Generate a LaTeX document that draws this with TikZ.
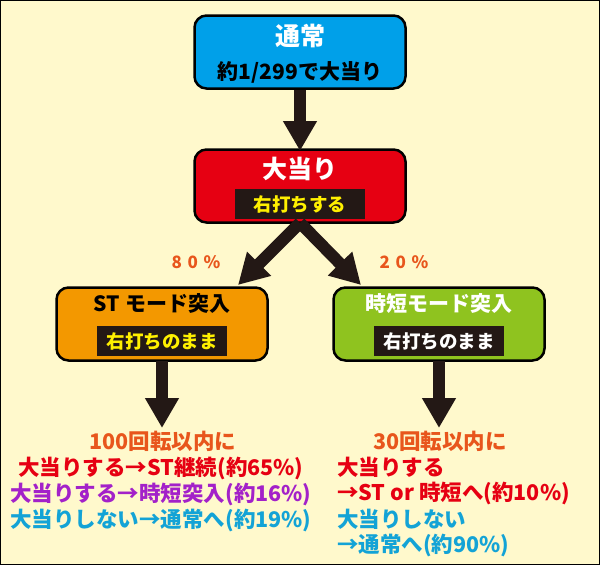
\documentclass[tikz,border=0pt]{standalone}
\usepackage{fontspec}
\setmainfont{Noto Sans CJK JP}
\usetikzlibrary{arrows.meta,positioning}
\definecolor{bg}{HTML}{FFF9CC}
\definecolor{cblue}{HTML}{00A0E9}
\definecolor{cred}{HTML}{E60012}
\definecolor{corange}{HTML}{F39800}
\definecolor{cgreen}{HTML}{8FC31F}
\definecolor{ctxt}{HTML}{E8561C}
\definecolor{cpurple}{HTML}{A321C9}
\definecolor{ccyan}{HTML}{13A3D6}
\definecolor{cyel}{HTML}{FFF000}
\definecolor{cdark}{HTML}{231815}
\tikzset{ box/.style = { draw = black
                       , line width   = 2.5pt
                       , rounded corners = 12pt
                       , minimum width  = 211pt
                       , minimum height = 73pt
                       },
          tag/.style = { fill = cdark
                       , inner sep    = 2pt
                       , minimum width  = 130pt
                       , minimum height = 30pt
                       , font = \bfseries\fontsize{18.5}{18.5}\selectfont
                       },
          ttl/.style = { font = \bfseries\fontsize{25}{25}\selectfont },
          sub/.style = { font = \bfseries\fontsize{21}{21}\selectfont },
          big/.style = { draw = cdark
                       , line width = 12pt
                       , -{Triangle[width=32pt,length=30pt]}
                       },
          txt/.style = { font = \bfseries\fontsize{21.5}{21.5}\selectfont
                       , inner sep = 0pt
                       },
          pct/.style = { font = \bfseries\fontsize{17}{17}\selectfont
                       , text = ctxt
                       }
        }
\begin{document}
\begin{tikzpicture}[x=1pt,y=-1pt]
  \path[fill=bg, draw=black, line width=1pt] (0.5,0.5) rectangle (599.5,564.5);
  \useasboundingbox (0,0) rectangle (600,565);
  % boxes
  \node[box, fill=cblue]   (normal) at (300,52)  {};
  \node[box, fill=cred]    (hit)    at (300,186) {};
  \node[box, fill=corange] (st)     at (162,324) {};
  \node[box, fill=cgreen]  (jitan)  at (439,324) {};
  % texts in boxes
  \node[ttl, text=white] (normalT) at (300,36) {通常};
  \node[sub, text=black] (normalS) at (300,72) {約1/299で大当り};
  \node[ttl, text=white] (hitT) at (300,169) {大当り};
  \node[tag, text=cyel] (hitS) at (300,204) {右打ちする};
  \node[sub, text=black] (stT) at (162,304) {ST モード突入};
  \node[tag, text=cyel] (stS) at (162,341) {右打ちのまま};
  \node[sub, text=white] (jitanT) at (439,304) {時短モード突入};
  \node[tag, text=white] (jitanS) at (439,341) {右打ちのまま};
  % arrows
  \coordinate (a1) at (300,151);
  \coordinate (a2) at (238,285);
  \coordinate (a3) at (361,285);
  \coordinate (a4) at (162,428);
  \coordinate (a5) at (439,428);
  \draw[big] (normal.south) -- (a1);
  \draw[big] (hit.south) ++(0,-1) -- (a2);
  \draw[big] (hit.south) ++(0,-1) -- (a3);
  \draw[big] (st.south) ++(0,-1) -- (a4);
  \draw[big] (jitan.south) ++(0,-1) -- (a5);
  \node[pct] (p80) at (196,262) {8\,\,0\,\,\%};
  \node[pct] (p20) at (404,262) {2\,\,0\,\,\%};
  % results
  \node[txt, text=ctxt] (st0) at (163,441) {100回転以内に};
  \node[txt, text=cred] (st1) at (161,468) {大当りする→ST継続(約65\%)};
  \node[txt, text=cpurple] (st2) at (161,494) {大当りする→時短突入(約16\%)};
  \node[txt, text=ccyan] (st3) at (161,520) {大当りしない→通常へ(約19\%)};
  \node[txt, text=ctxt] (j0) at (440,441) {30回転以内に};
  \node[txt, text=cred, anchor=west] (j1) at (337,467) {大当りする};
  \node[txt, text=cred, anchor=west] (j2) at (337,493) {→ST or 時短へ(約10\%)};
  \node[txt, text=ccyan, anchor=west] (j3) at (337,519) {大当りしない};
  \node[txt, text=ccyan, anchor=west] (j4) at (337,545) {→通常へ(約90\%)};
\end{tikzpicture}
\end{document}
